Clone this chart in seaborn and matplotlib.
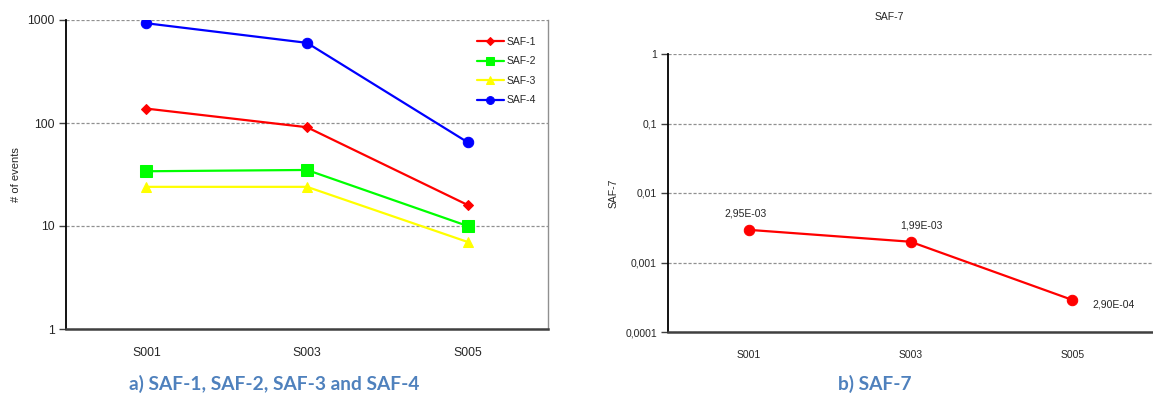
import matplotlib
matplotlib.use("Agg")
import matplotlib.pyplot as plt
import matplotlib.ticker as mticker
import seaborn as sns
import pandas as pd

# ---- data ----
scenarios = ["S001", "S003", "S005"]
saf1 = [138, 91, 16]
saf2 = [34, 35, 10]
saf3 = [24, 24, 7]
saf4 = [930, 600, 65]
saf7 = [2.95e-3, 1.99e-3, 2.90e-4]
saf7_labels = ["2,95E-03", "1,99E-03", "2,90E-04"]
left_yticks = [1, 10, 100, 1000]
left_yticklabels = ["1", "10", "100", "1000"]
right_yticks = [0.0001, 0.001, 0.01, 0.1, 1]
right_yticklabels = ["0,0001", "0,001", "0,01", "0,1", "1"]

sns.set_theme(style="white")
plt.rcParams["font.family"] = ["Liberation Sans", "DejaVu Sans"]

W, H = 1153, 401
fig = plt.figure(figsize=(W / 100, H / 100), dpi=100)

def frac(x0, y0, x1, y1):
    return [x0 / W, 1 - y1 / H, (x1 - x0) / W, (y1 - y0) / H]

ax1 = fig.add_axes(frac(66, 20, 548, 329))
ax2 = fig.add_axes(frac(668, 54, 1153, 332))

# ---- left chart ----
df = pd.DataFrame({
    "scenario": scenarios * 4,
    "value": saf1 + saf2 + saf3 + saf4,
    "series": ["SAF-1"] * 3 + ["SAF-2"] * 3 + ["SAF-3"] * 3 + ["SAF-4"] * 3,
})
palette = {"SAF-1": "#FF0000", "SAF-2": "#00FF00", "SAF-3": "#FFFF00", "SAF-4": "#0000FF"}
markers = {"SAF-1": "D", "SAF-2": "s", "SAF-3": "^", "SAF-4": "o"}
sizes_m = {"SAF-1": 5, "SAF-2": 8, "SAF-3": 7.5, "SAF-4": 7.5}
for name in ["SAF-1", "SAF-2", "SAF-3", "SAF-4"]:
    sub = df[df["series"] == name]
    sns.lineplot(data=sub, x="scenario", y="value", ax=ax1, color=palette[name],
                 marker=markers[name], markersize=sizes_m[name], markeredgecolor=palette[name],
                 linewidth=1.6, label=name, zorder=3)

def style_axes(ax, yticks, ylabels, fs):
    ax.set_yscale("log")
    ax.set_xlim(-0.5, 2.5)
    ax.yaxis.set_major_locator(mticker.FixedLocator(yticks))
    ax.yaxis.set_minor_locator(mticker.NullLocator())
    ax.set_yticks(yticks)
    ax.set_yticklabels(ylabels, fontsize=fs)
    ax.set_ylim(yticks[0], yticks[-1])
    ax.set_xticks(range(3))
    ax.set_xticklabels(scenarios, fontsize=fs)
    ax.set_xticks([-0.5, 0.5, 1.5, 2.5], minor=True)
    ax.tick_params(axis="x", which="major", length=0, pad=13)
    ax.tick_params(axis="x", which="minor", length=5, width=1, color="#404040", direction="out")
    ax.tick_params(axis="y", which="major", length=5, width=1, color="#404040",
                   direction="out", left=True, pad=3)
    ax.grid(axis="y", which="major", linestyle=(0, (2.5, 1.5)), color="#909090", linewidth=0.9)
    ax.grid(axis="x", visible=False)
    ax.spines["left"].set_color("black")
    ax.spines["left"].set_linewidth(1.3)
    ax.spines["bottom"].set_color("#404040")
    ax.spines["bottom"].set_linewidth(1.8)
    ax.spines["top"].set_visible(False)
    ax.set_xlabel("")

style_axes(ax1, left_yticks, left_yticklabels, 8.8)
ax1.spines["right"].set_color("#909090")
ax1.spines["right"].set_linewidth(1.0)
ax1.set_ylabel("# of events", fontsize=8, labelpad=5)
leg = ax1.legend(loc="upper right", bbox_to_anchor=(0.995, 0.975), frameon=False, fontsize=7.5,
                 handlelength=2.6, labelspacing=0.9, handletextpad=0.3, markerscale=0.75)

# ---- right chart ----
df7 = pd.DataFrame({"scenario": scenarios, "value": saf7})
sns.lineplot(data=df7, x="scenario", y="value", ax=ax2, color="#FF0000", marker="o",
             markersize=7.5, markeredgecolor="#FF0000", linewidth=1.6, zorder=3)
style_axes(ax2, right_yticks, right_yticklabels, 7.5)
ax2.spines["right"].set_visible(False)
ax2.set_ylabel("SAF-7", fontsize=7.5, labelpad=5)
offsets = [(-2, 12), (8, 12), (30, -3)]
for i, (v, lab) in enumerate(zip(saf7, saf7_labels)):
    ax2.annotate(lab, (i, v), xytext=offsets[i], textcoords="offset points",
                 ha="center", va="center", fontsize=7.5)

fig.text(889 / W, 1 - 17 / H, "SAF-7", ha="center", va="center", fontsize=7.5)

# ---- captions ----
cap_kw = dict(ha="center", va="center", fontsize=13.8, fontweight="bold", color="#4F81BD",
              family=["Lato", "DejaVu Sans"])
fig.text(274 / W, 1 - 384 / H, "a) SAF-1, SAF-2, SAF-3 and SAF-4", **cap_kw)
fig.text(875 / W, 1 - 384 / H, "b) SAF-7", **cap_kw)

fig.savefig("out.png", dpi=100)
